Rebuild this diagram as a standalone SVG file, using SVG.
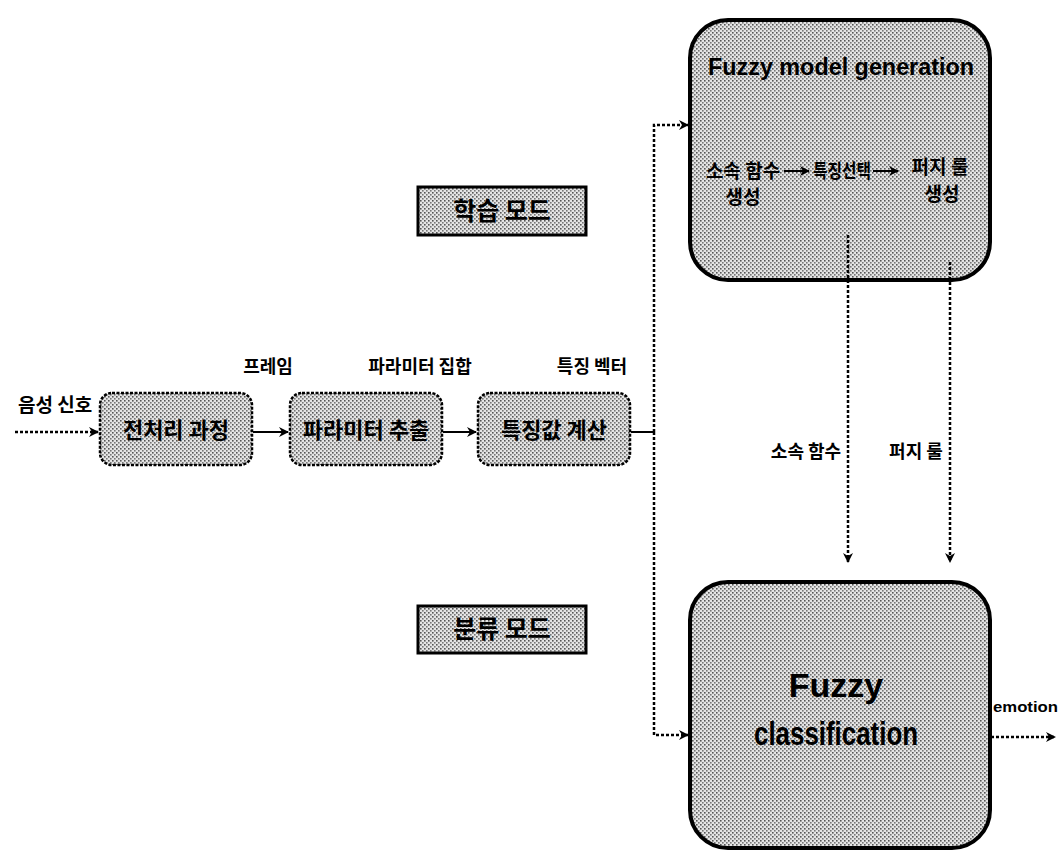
<svg xmlns="http://www.w3.org/2000/svg" width="1058" height="851" viewBox="0 0 1058 851">
<defs>
<pattern id="dots" width="4" height="4" patternUnits="userSpaceOnUse">
<rect width="4" height="4" fill="#e4e4e4"/>
<rect x="0" y="0" width="1.6" height="1.6" fill="#555"/>
<rect x="2" y="2" width="1.6" height="1.6" fill="#777"/>
</pattern>
<marker id="ah" markerWidth="10" markerHeight="10" refX="9" refY="5" orient="auto" markerUnits="userSpaceOnUse">
<path d="M0,0 L10,5 L0,10 L3,5 Z" fill="#000"/>
</marker>
</defs>
<style>
.k{font-family:"Noto Sans CJK KR","Noto Sans",sans-serif;font-weight:bold;fill:#000}
.e{font-family:"Liberation Sans","Noto Sans",sans-serif;font-weight:bold;fill:#000}
.sbox{fill:url(#dots);stroke:#000;stroke-width:2.5;stroke-dasharray:3 1.5}
.big{fill:url(#dots);stroke:#000;stroke-width:4}
.mode{fill:url(#dots);stroke:#000;stroke-width:3}
.ln{fill:none;stroke:#000;stroke-width:2}
.dt{fill:none;stroke:#000;stroke-width:2.5;stroke-dasharray:3 2}
</style>
<g id="lbl-input"><text class="k" x="18" y="412" font-size="19">음성 신호</text></g>
<g id="lbl-frame"><text class="k" x="268" y="373" font-size="18" text-anchor="middle">프레임</text></g>
<g id="lbl-param"><text class="k" x="420" y="373" font-size="18" text-anchor="middle">파라미터 집합</text></g>
<g id="lbl-feat"><text class="k" x="592" y="373" font-size="18" text-anchor="middle">특징 벡터</text></g>
<g id="n-pre">
<rect class="sbox" x="100" y="393" width="152" height="72" rx="12"/>
<text class="k" x="176" y="438" font-size="22" text-anchor="middle">전처리 과정</text>
</g>
<g id="n-param">
<rect class="sbox" x="290" y="393" width="152" height="72" rx="12"/>
<text class="k" x="366" y="438" font-size="22" text-anchor="middle">파라미터 추출</text>
</g>
<g id="n-feat">
<rect class="sbox" x="478" y="393" width="152" height="72" rx="12"/>
<text class="k" x="554" y="438" font-size="22" text-anchor="middle">특징값 계산</text>
</g>
<g id="mode-learn">
<rect class="mode" x="418" y="187" width="168" height="48"/>
<text class="k" x="502" y="220" font-size="25" text-anchor="middle">학습 모드</text>
</g>
<g id="mode-class">
<rect class="mode" x="418" y="606" width="168" height="47"/>
<text class="k" x="502" y="638" font-size="25" text-anchor="middle">분류 모드</text>
</g>
<g id="n-gen">
<rect class="big" x="690" y="20" width="300" height="260" rx="38"/>
<text class="e" x="841" y="75" font-size="24" text-anchor="middle" textLength="266" lengthAdjust="spacingAndGlyphs">Fuzzy model generation</text>
<text class="k" x="743" y="178" font-size="19" text-anchor="middle">소속 함수</text>
<text class="k" x="743" y="204" font-size="19" text-anchor="middle">생성</text>
<text class="k" x="842" y="178" font-size="19" text-anchor="middle" textLength="58" lengthAdjust="spacingAndGlyphs">특징선택</text>
<text class="k" x="940" y="174" font-size="19" text-anchor="middle">퍼지 룰</text>
<text class="k" x="942" y="201" font-size="19" text-anchor="middle">생성</text>
<path class="ln" d="M784,171 L809,171" marker-end="url(#ah)"/>
<path class="ln" d="M873,171 L898,171" marker-end="url(#ah)"/>
</g>
<g id="lbl-mf"><text class="k" x="806" y="458" font-size="18" text-anchor="middle">소속 함수</text></g>
<g id="lbl-rule"><text class="k" x="916" y="458" font-size="18" text-anchor="middle">퍼지 룰</text></g>
<g id="n-class">
<rect class="big" x="690" y="582" width="300" height="266" rx="38"/>
<text class="e" x="836" y="697" font-size="34" text-anchor="middle">Fuzzy</text>
<text class="e" x="836" y="745" font-size="34" text-anchor="middle" textLength="164" lengthAdjust="spacingAndGlyphs">classification</text>
</g>
<g id="lbl-emotion"><text class="e" x="993" y="712" font-size="15" textLength="65" lengthAdjust="spacingAndGlyphs">emotion</text></g>
<g id="connectors">
<path class="dt" d="M15,432 L98,432" marker-end="url(#ah)"/>
<path class="ln" d="M253,432 L288,432" marker-end="url(#ah)"/>
<path class="ln" d="M443,432 L476,432" marker-end="url(#ah)"/>
<path class="ln" d="M631,432 L654,432"/>
<path class="dt" d="M654,432 L654,125 L688,125" marker-end="url(#ah)"/>
<path class="dt" d="M654,432 L654,735 L688,735" marker-end="url(#ah)"/>
<path class="dt" d="M848,235 L848,562" marker-end="url(#ah)"/>
<path class="dt" d="M950,262 L950,562" marker-end="url(#ah)"/>
<path class="dt" d="M991,737 L1055,737" marker-end="url(#ah)"/>
</g>
</svg>
